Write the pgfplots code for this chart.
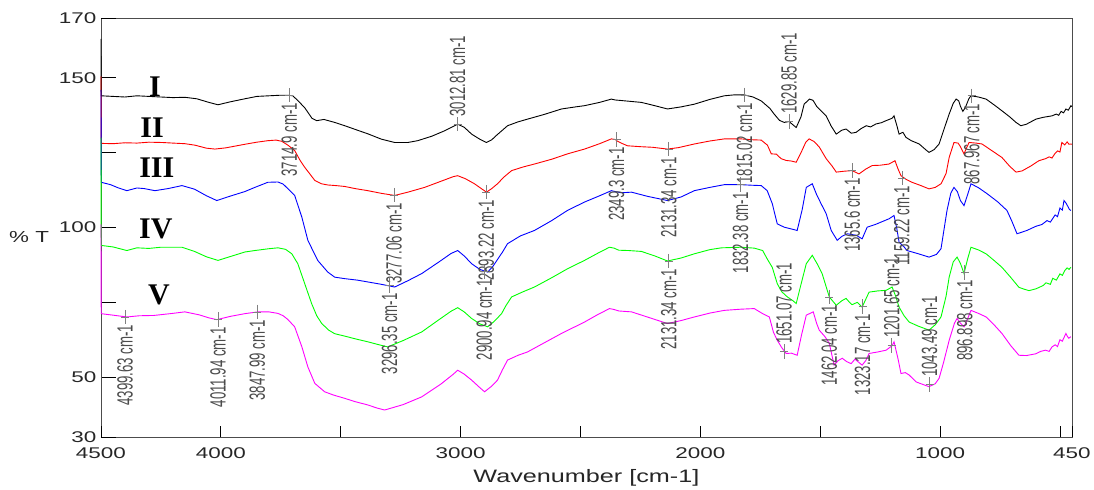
\documentclass[border=0pt]{standalone}
\usepackage{pgfplots}
\pgfplotsset{compat=1.18}
\usepackage{pgfplotstable}
\usepackage{fontspec}
\setmainfont{Liberation Sans}
\newfontfamily\tickfont[FakeStretch=1.45]{Liberation Sans}
\newfontfamily\labfont[FakeStretch=1.4]{Liberation Sans}
\newfontfamily\peakfont[FakeStretch=0.6]{Liberation Sans}
\newfontfamily\romanfont{Liberation Serif}
\definecolor{cI}{RGB}{0,0,0}
\definecolor{cII}{RGB}{255,0,0}
\definecolor{cIII}{RGB}{0,0,255}
\definecolor{cIV}{RGB}{0,255,0}
\definecolor{cV}{RGB}{255,0,255}

\pgfplotstableread{
w T
4500 163
4499 144
4450 143.8
4400 143.6
4350 144
4300 143.8
4250 143.6
4200 143.4
4150 143.5
4100 143
4050 141.8
4012 141
3960 142
3900 143
3850 143.8
3800 144
3750 144.2
3721 144.2
3700 144
3680 142.5
3650 140
3620 136.5
3600 135.7
3570 136.1
3525 135.1
3483 134
3430 132.5
3387 131.3
3330 129.5
3275 128.4
3220 128.4
3179 129
3120 130.5
3067 132.3
3030 133.8
3012 134.5
2985 133.5
2954 131.2
2920 129.5
2892 128.4
2870 129.3
2850 130.8
2804 134
2760 135.3
2721 136.2
2650 137.8
2579 139.6
2520 140.3
2483 140.7
2420 141.8
2371 142.9
2355 142.6
2340 142.5
2300 142.2
2246 141.8
2190 140.7
2137 139.6
2080 140.3
2025 141.2
1960 142.8
1900 144
1860 144.3
1817 144.3
1780 143.6
1746 142.3
1710 139.8
1692 137.9
1670 135.8
1650 135.1
1630 135.4
1600 133.4
1580 137
1567 141.2
1545 142.9
1530 142.5
1515 140.5
1504 139.6
1475 137.3
1455 134
1433 131.2
1410 132.5
1392 132.9
1370 131.5
1350 131.8
1330 133
1308 134
1290 133.6
1267 134.6
1245 135
1225 135.7
1200 136.5
1192 137.3
1180 134
1171 131.2
1155 131.8
1142 130.1
1120 129
1087 127.9
1060 126
1046 125.1
1025 126
1004 127.9
985 132.5
962 137.9
945 141.5
933 142.9
922 142.3
915 140.5
905 138.8
895 140
880 143
871 144
840 143.6
808 142.9
775 141
742 139
710 137
683 135.1
663 134
640 134.5
600 136.2
570 136.8
533 137.3
515 137.9
505 137.5
495 138.8
485 138.3
475 139.6
465 139.2
454 140.7
450 140.4
}\curveI

\pgfplotstableread{
w T
4500 150.5
4499 128.1
4450 128
4400 128.3
4350 128.2
4300 128.5
4246 128.4
4200 128.2
4150 128
4108 127.5
4060 126.5
4025 126.2
3980 126.6
3900 127.8
3850 128.5
3804 129
3770 129.2
3746 128.8
3720 127.5
3692 125.7
3670 122.5
3650 120.1
3625 117.5
3608 115.7
3580 114.6
3554 114.2
3520 114
3483 113.7
3440 113
3387 112.3
3330 111.4
3275 110.7
3220 111.8
3150 113.4
3080 115.5
3030 117
3012 117.3
2980 116.3
2942 114.6
2910 112.8
2892 111.8
2870 113
2846 114.6
2820 116.8
2787 119
2740 120.2
2692 121.2
2620 122.8
2554 124.6
2483 126.2
2420 128
2371 129.6
2355 129.4
2345 128.8
2330 128.2
2304 127.3
2250 127
2200 126.8
2137 126.2
2090 126.7
2025 127.9
1960 128.9
1900 129.6
1830 129.6
1780 129.3
1746 129.2
1720 127.5
1704 124.6
1683 124.5
1663 123
1642 122.4
1620 122.2
1600 121.8
1580 125
1560 128.5
1546 129.6
1525 128.7
1504 126.9
1475 123
1450 120.5
1433 118.5
1400 118.8
1367 119
1338 117.9
1310 119.5
1283 120.7
1250 120.8
1213 121.2
1188 122.3
1175 119.5
1163 117.3
1140 116
1117 115.1
1080 114
1046 112.9
1020 113.4
996 114.6
975 118
962 123.4
942 128.4
925 128.2
915 127
900 124.6
890 126.5
879 128.4
850 128.2
825 127.9
790 126
742 123.4
710 120.5
683 118.5
658 118.9
620 120.6
588 122.3
560 123
545 123.6
533 123.2
520 124.8
510 125.6
500 125.2
492 128.4
480 127.6
470 128.6
462 127.8
454 127.9
450 127.8
}\curveII

\pgfplotstableread{
w T
4500 146
4499 115.1
4460 114.3
4430 113.3
4392 112.3
4350 113.2
4320 113
4275 112.3
4220 113
4162 114
4110 112.8
4060 110.6
4017 109
3960 110.5
3900 112
3858 113.4
3804 115.1
3762 115.2
3740 114.5
3721 113
3692 110.7
3662 103.4
3637 95.7
3596 89
3554 85.1
3525 83.4
3483 82.9
3430 82.4
3387 81.8
3330 81
3275 80.1
3220 82.2
3162 84.6
3090 88.5
3040 91.3
3012 92.3
2985 90.5
2954 87.9
2920 86
2887 85.1
2865 87
2846 89.3
2825 91.8
2804 94.6
2750 97.2
2692 99
2620 102.3
2554 105.7
2483 108.5
2420 110.6
2371 112.3
2355 112
2330 111.6
2287 111.8
2220 110.4
2137 109
2080 110.2
2025 112.3
1960 113.4
1900 114.3
1830 114.3
1780 114.1
1746 114
1721 112.3
1700 108
1679 101.2
1650 100.1
1620 99.5
1596 99
1575 106
1558 113.4
1533 114.6
1515 111
1496 107.9
1475 104.6
1454 99
1429 95.7
1410 97
1387 97.9
1350 97.4
1325 96.2
1304 100.1
1270 101
1246 101.8
1213 102.9
1192 104
1180 99.5
1171 95.1
1150 93.5
1138 92.3
1090 91.2
1046 90.1
1015 91
996 92.9
971 105.7
955 111.5
942 113.4
928 112
915 109
900 107.3
885 111
871 114.6
840 113.3
804 111.3
760 108.6
721 105.7
700 102
679 97.9
660 98.4
638 99
600 100.4
575 101
554 102.3
540 101.8
520 104.2
510 103.6
500 106.5
490 105.8
483 109
475 108.2
470 107.5
460 106
454 105.7
}\curveIII

\pgfplotstableread{
w T
4500 130
4499 94
4450 93.5
4392 92.3
4350 93.2
4300 93
4250 93.4
4162 93.4
4110 92
4060 90.2
4012 89
3960 90.3
3900 91.8
3858 92.3
3800 92.9
3762 93.2
3730 92.7
3704 91.2
3679 87.9
3650 81.2
3621 74.5
3600 70.5
3579 67.9
3550 65.7
3525 64.5
3483 63.7
3440 62.8
3387 61.8
3340 60.8
3304 60.1
3240 62.2
3162 65.1
3090 69.2
3040 72
3012 73.2
2985 71.8
2954 69.6
2920 67.8
2887 66.8
2860 68.6
2829 71.2
2810 74
2787 76.8
2740 78.5
2692 80.1
2620 83.2
2554 86.2
2483 89
2430 91.3
2379 93.4
2360 93.1
2340 92.4
2300 92.3
2246 92
2190 90.5
2137 88.8
2080 89.8
2025 91.2
1960 92.6
1912 93.2
1830 93.4
1775 93.1
1740 92.3
1721 89.5
1700 86.7
1679 81.2
1660 78.5
1637 76.8
1615 75.6
1600 74.6
1580 81
1558 87.9
1533 90.7
1510 87.5
1492 84.6
1462 76.8
1433 74
1410 75.5
1392 76.3
1380 75.2
1367 74.2
1345 75
1325 73.4
1310 76
1296 78.4
1260 78.8
1225 79
1200 80.1
1185 77
1171 73.4
1150 70.5
1129 68.4
1090 67
1046 65.7
1020 67.5
996 70.1
975 77
962 83.4
945 88.5
929 90.1
915 88
900 84.6
885 89.5
871 93.4
840 92.5
808 91.2
775 89
742 86.7
705 83.3
671 80
650 79.4
629 78.9
600 79.5
570 80.6
558 81.5
540 81
530 83
515 82.4
500 84.5
490 84
480 85.6
470 86.5
462 86
454 86.7
}\curveIV

\pgfplotstableread{
w T
4500 101
4499 71.2
4450 70.7
4392 70.1
4340 70.5
4280 70.6
4200 71.3
4150 71.8
4090 70.8
4050 69.8
4017 69.2
3960 70.3
3900 71.2
3846 71.8
3800 71.8
3762 71.3
3740 70.5
3721 69.3
3692 66.8
3662 60.1
3637 53.4
3608 47.9
3567 45.1
3530 44
3483 42.9
3440 41.8
3387 40.7
3350 39.7
3317 39
3240 40.8
3162 43.4
3080 47.8
3030 51
3012 52.3
2985 51
2954 49
2920 46.5
2900 45.1
2870 47
2846 49
2825 52.5
2804 55.7
2760 57.3
2721 58.4
2650 61.5
2579 64.6
2483 68.4
2430 70.8
2379 72.9
2360 72.6
2340 72.1
2287 71.8
2210 69.8
2137 67.9
2080 68.9
2025 70.1
1960 71.4
1900 72.3
1830 72.7
1775 72.9
1740 71.2
1712 70.1
1695 65
1679 62.3
1660 59.8
1642 57.9
1620 58
1596 57.3
1578 64
1558 70.7
1529 71.8
1515 68
1504 65.7
1480 63.5
1462 61.3
1442 54
1425 55.5
1408 56.3
1390 55.2
1371 54.5
1355 56
1340 55
1325 54
1310 55.5
1296 57.9
1260 58.4
1225 59
1200 60.5
1192 61.8
1175 56
1163 51.2
1145 51.5
1129 50.7
1100 48.4
1070 47.5
1046 46.8
1020 47.8
1004 49.6
985 55
962 62.3
940 68
929 69.6
915 68
900 66.8
885 69.5
871 72.3
840 71.3
808 70.1
775 67.5
742 64.6
705 60.5
671 57.3
640 57.2
600 57.8
580 58.6
560 59
545 58.6
533 60.1
520 60.8
510 60.2
500 62.5
490 62
475 64.6
468 63.5
463 63
454 63.5
}\curveV

\pgfplotstableread{
w T label
4399.63 70.1 {4399.63 cm-1}
4011.94 69.2 {4011.94 cm-1}
3847.99 71.8 {3847.99 cm-1}
3714.9 144.2 {3714.9 cm-1}
3277.06 110.8 {3277.06 cm-1}
3296.35 80.6 {3296.35 cm-1}
2893.22 111.8 {2893.22 cm-1}
2900.94 85.2 {2900.94 cm-1}
2349.3 129.4 {2349.3 cm-1}
2131.34 126.2 {2131.34 cm-1}
2131.34 88.8 {2131.34 cm-1}
1815.02 144.3 {1815.02 cm-1}
1832.38 114.3 {1832.38 cm-1}
1365.6 119 {1365.6 cm-1}
1159.22 116.5 {1159.22 cm-1}
1462.04 76.8 {1462.04 cm-1}
1323.17 73.6 {1323.17 cm-1}
896.898 85 {896.898 cm-1}
867.967 144 {867.967 cm-1}
}\peaksbelow

\pgfplotstableread{
w T label
3012.81 134.5 {3012.81 cm-1}
1629.85 135.4 {1629.85 cm-1}
1651.07 58.5 {1651.07 cm-1}
1201.65 60.5 {1201.65 cm-1}
1043.49 47.5 {1043.49 cm-1}
}\peaksabove

\begin{document}
\begin{tikzpicture}
\begin{axis}[
  at={(0pt,0pt)}, anchor=south west,
  scale only axis, width=971pt, height=419pt,
  x dir=reverse, xmin=450, xmax=4500, ymin=30, ymax=170,
  clip=false,
  axis line style={black!70, line width=0.8pt},
  tick pos=left, tick align=inside,
  tick style={black, line width=0.8pt},
  xtick={4000,3500,3000,2500,2000,1500,1000,500},
  xticklabels={4000,,3000,,2000,,1000,},
  extra x ticks={4500,450},
  extra x tick labels={4500,450},
  extra x tick style={major tick length=0pt},
  xtick style={/pgfplots/major tick length=11pt},
  ytick={50,75,100,125,150},
  yticklabels={50,,100,,150},
  extra y ticks={30,170},
  extra y tick labels={30,170},
  extra y tick style={major tick length=0pt},
  ytick style={/pgfplots/major tick length=15pt},
  /pgf/number format/assume math mode=true,
  xticklabel style={font=\tickfont\fontsize{15.5}{16}\selectfont, text=black!85, yshift=-7pt},
  yticklabel style={font=\tickfont\fontsize{15.5}{16}\selectfont, text=black!85, xshift=-1pt},
  xlabel={Wavenumber [cm-1]},
  xlabel style={at={(axis description cs:0.5,0)}, anchor=center, yshift=-41pt,
    font=\labfont\fontsize{18}{18}\selectfont, text=black!85},
  ylabel={\% T},
  ylabel style={at={(axis description cs:-0.074,0.477)}, anchor=center, rotate=-90,
    font=\labfont\fontsize{16}{16}\selectfont, text=black!85},
]
\addplot[cI, line width=0.9pt] table[x=w,y=T] {\curveI};
\addplot[cII, line width=0.9pt] table[x=w,y=T] {\curveII};
\addplot[cIII, line width=0.9pt] table[x=w,y=T] {\curveIII};
\addplot[cIV, line width=0.9pt] table[x=w,y=T] {\curveIV};
\addplot[cV, line width=0.9pt] table[x=w,y=T] {\curveV};

\addplot[only marks, mark=+, mark size=4pt,
  mark options={draw=black!50, yscale=1.8, line width=0.7pt},
  point meta=explicit symbolic, nodes near coords,
  every node near coord/.append style={rotate=90, anchor=east, inner xsep=7.5pt, inner ysep=0pt,
    font=\peakfont\fontsize{22}{22}\selectfont, text=black!70}]
  table[x=w, y=T, meta=label] {\peaksbelow};
\addplot[only marks, mark=+, mark size=4pt,
  mark options={draw=black!50, yscale=1.8, line width=0.7pt},
  point meta=explicit symbolic, nodes near coords,
  every node near coord/.append style={rotate=90, anchor=west, inner xsep=7.5pt, inner ysep=0pt,
    font=\peakfont\fontsize{22}{22}\selectfont, text=black!70}]
  table[x=w, y=T, meta=label] {\peaksabove};

\node[font=\romanfont\bfseries\fontsize{30}{30}\selectfont] at (axis cs:4275,146.9) {I};
\node[font=\romanfont\bfseries\fontsize{30}{30}\selectfont] at (axis cs:4287,133.2) {II};
\node[font=\romanfont\bfseries\fontsize{30}{30}\selectfont] at (axis cs:4267,119.9) {III};
\node[font=\romanfont\bfseries\fontsize{30}{30}\selectfont] at (axis cs:4271,99.5) {IV};
\node[font=\romanfont\bfseries\fontsize{30}{30}\selectfont] at (axis cs:4258,77.4) {V};
\end{axis}
\path (-101pt,-52pt) rectangle (993pt,437pt);
\end{tikzpicture}
\end{document}
